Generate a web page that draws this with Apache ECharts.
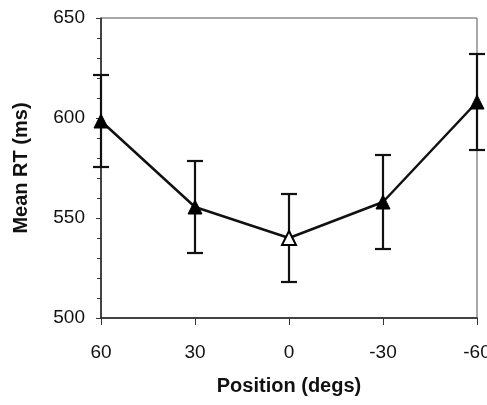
<!DOCTYPE html>
<html>
<head>
<meta charset="utf-8">
<script src="https://cdn.jsdelivr.net/npm/echarts@6/dist/echarts.min.js"></script>
<style>html,body{margin:0;padding:0;background:#fff;}#c{width:487px;height:405px;}</style>
</head>
<body>
<div id="c"></div>
<script>
const categories = ['60', '30', '0', '-30', '-60'];
const meanRT = [598.5, 555.5, 540, 558, 608];
const errRT = [23, 23, 22, 23.5, 24];
const hollowIndex = 2;
const yTicks = [500, 550, 600, 650];

const chart = echarts.init(document.getElementById('c'), null, {renderer: 'canvas'});
const lineData = meanRT.map((v, i) => i === hollowIndex
  ? {value: v, itemStyle: {color: '#fff', borderColor: '#000', borderWidth: 2}}
  : {value: v});
const errData = meanRT.map((v, i) => [i, v - errRT[i], v + errRT[i]]);

chart.setOption({
  animation: false,
  backgroundColor: '#fff',
  grid: {left: 101, right: 10, top: 18, bottom: 87, show: true, borderColor: '#555', borderWidth: 1,
         containLabel: false, outerBoundsMode: 'none'},
  xAxis: {
    type: 'category', data: categories, boundaryGap: false,
    name: 'Position (degs)', nameLocation: 'middle', nameGap: 58,
    nameTextStyle: {fontFamily: 'Liberation Sans, Arial', fontWeight: 'bold', fontSize: 20, color: '#111'},
    axisLine: {lineStyle: {color: '#222', width: 1.5}},
    axisTick: {show: true, length: 7, lineStyle: {color: '#333', width: 1}},
    axisLabel: {fontFamily: 'Liberation Sans, Arial', fontSize: 19, color: '#111', margin: 25},
    splitLine: {show: false}
  },
  yAxis: {
    type: 'value', min: yTicks[0], max: yTicks[yTicks.length - 1], interval: 50,
    name: 'Mean RT (ms)', nameLocation: 'middle', nameGap: 70, nameRotate: 90,
    nameTextStyle: {fontFamily: 'Liberation Sans, Arial', fontWeight: 'bold', fontSize: 20, color: '#111'},
    axisLine: {show: true, lineStyle: {color: '#222', width: 1.5}},
    axisTick: {show: true, length: 5, lineStyle: {color: '#333', width: 1}},
    minorTick: {show: true, splitNumber: 5, length: 4, lineStyle: {color: '#333', width: 1}},
    axisLabel: {fontFamily: 'Liberation Sans, Arial', fontSize: 19, color: '#111', margin: 16},
    splitLine: {show: false}
  },
  series: [
    {
      type: 'custom', z: 2, data: errData,
      renderItem: function (params, api) {
        const x = api.value(0);
        const lo = api.coord([x, api.value(1)]);
        const hi = api.coord([x, api.value(2)]);
        const w = 8;
        const style = {stroke: '#111', lineWidth: 2.2};
        return {type: 'group', children: [
          {type: 'line', shape: {x1: hi[0], y1: hi[1], x2: lo[0], y2: lo[1]}, style: style},
          {type: 'line', shape: {x1: hi[0] - w, y1: hi[1], x2: hi[0] + w, y2: hi[1]}, style: style},
          {type: 'line', shape: {x1: lo[0] - w, y1: lo[1], x2: lo[0] + w, y2: lo[1]}, style: style}
        ]};
      }
    },
    {
      type: 'line', z: 3, data: lineData,
      symbol: 'triangle', symbolSize: [14, 14],
      lineStyle: {color: '#111', width: 2.5},
      itemStyle: {color: '#000', borderColor: '#000', borderWidth: 1}
    }
  ]
});
</script>
</body>
</html>
